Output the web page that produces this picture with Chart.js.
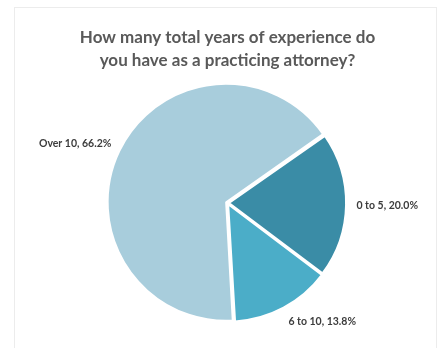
<!DOCTYPE html>
<html>
<head>
<meta charset="utf-8">
<script src="https://cdn.jsdelivr.net/npm/chart.js@4"></script>
<style>
  html, body { margin: 0; padding: 0; background: #fff; }
  #frame {
    position: absolute; left: 14px; top: 7px; width: 421px; height: 345px;
    border-top: 1px solid #ececec; border-left: 1px solid #ececec; border-right: 1px solid #ececec;
  }
  #frame canvas { display: block; }
</style>
</head>
<body>
<div id="frame"><canvas id="expChart" width="421" height="341"></canvas></div>
<script>
// ==========================================
// DATA
// ==========================================
const categories = ['0 to 5', '6 to 10', 'Over 10'];
const percents = [20.0, 13.8, 66.2];
const sliceColors = ['#3a8ca6', '#4badc8', '#a8cddc'];
const titleLines = ['How many total years of experience do', 'you have as a practicing attorney?'];

// ==========================================
// OUTSIDE LABELS ("Category, 00.0%")
// ==========================================
const outsideLabels = {
    id: 'outsideLabels',
    afterDatasetsDraw(chart) {
        const ctx = chart.ctx;
        const meta = chart.getDatasetMeta(0);
        ctx.save();
        ctx.font = "bold 10.5px Lato, 'Open Sans', sans-serif";
        ctx.fillStyle = '#3c3c3c';
        ctx.textBaseline = 'middle';
        meta.data.forEach((arc, i) => {
            const p = arc.getProps(['x', 'y', 'startAngle', 'endAngle', 'outerRadius'], true);
            const mid = (p.startAngle + p.endAngle) / 2;
            const dx = Math.cos(mid), dy = Math.sin(mid);
            const text = categories[i] + ', ' + percents[i].toFixed(1) + '%';
            const r = p.outerRadius + 12;
            // text sits beside the slice: left-aligned on the right side, right-aligned on the left
            ctx.textAlign = dx >= 0 ? 'left' : 'right';
            const x = p.x + dx * r;
            const y = p.y + dy * r + dy * 6;
            ctx.fillText(text, x, y);
        });
        ctx.restore();
    }
};

// ==========================================
// CHART
// ==========================================
const ctx = document.getElementById('expChart').getContext('2d');

new Chart(ctx, {
    type: 'pie',
    data: {
        labels: categories,
        datasets: [{
            data: percents,
            backgroundColor: sliceColors,
            borderColor: '#ffffff',
            borderWidth: 2,
            offset: 6
        }]
    },
    options: {
        responsive: false,
        animation: false,
        rotation: 55,
        radius: 117,
        layout: { padding: { left: 4, right: 0, top: 0, bottom: 23 } },
        plugins: {
            legend: { display: false },
            tooltip: { enabled: false },
            title: {
                display: true,
                text: titleLines,
                color: '#595959',
                font: { family: "Lato, 'Open Sans', sans-serif", size: 17, weight: 'bold', lineHeight: 1.35 },
                padding: { top: 18, bottom: 8 }
            }
        }
    },
    plugins: [outsideLabels]
});
</script>
</body>
</html>
